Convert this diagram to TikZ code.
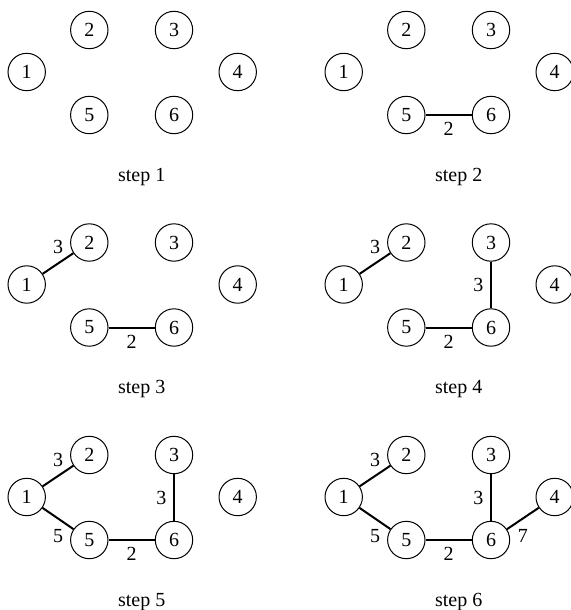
\documentclass[tikz,border=0pt]{standalone}
\usepackage{fontspec}
\setmainfont{Liberation Serif}
\usepackage{tikz}

\tikzset{
    vert/.style={circle, draw, line width=0.5pt, minimum size=18.7pt, inner sep=0pt},
    tree/.style={line width=1pt},
    steplabel/.style={inner sep=0pt}
}

\begin{document}
\begin{tikzpicture}[x=0.5pt, y=-0.5pt, font=\fontsize{10}{12}\selectfont]
    \useasboundingbox (0,0) rectangle (571,610);

    % six copies of the graph, one per step
    \foreach \s/\dx/\dy in {1/0/0, 2/317/0, 3/0/212.5, 4/317/212.5, 5/0/425, 6/317/425} {
        \begin{scope}[shift={(\dx,\dy)}]
            \node[vert] (s\s-1) at (26.7, 72) {1};
            \node[vert] (s\s-2) at (89.3, 30) {2};
            \node[vert] (s\s-3) at (174, 30) {3};
            \node[vert] (s\s-4) at (237.7, 72) {4};
            \node[vert] (s\s-5) at (89.3, 115) {5};
            \node[vert] (s\s-6) at (174, 115) {6};
            \node[steplabel] (lab\s) at (141.7, 177) {step \s};
        \end{scope}
    }

    % step 2
    \draw[tree] (s2-5) -- node[below] {2} (s2-6);

    % step 3
    \draw[tree] (s3-5) -- node[below] {2} (s3-6);
    \draw[tree] (s3-1) -- node[above=1pt] {3} (s3-2);

    % step 4
    \draw[tree] (s4-5) -- node[below] {2} (s4-6);
    \draw[tree] (s4-1) -- node[above=1pt] {3} (s4-2);
    \draw[tree] (s4-3) -- node[left] {3} (s4-6);

    % step 5
    \draw[tree] (s5-5) -- node[below] {2} (s5-6);
    \draw[tree] (s5-1) -- node[above=1pt] {3} (s5-2);
    \draw[tree] (s5-3) -- node[left] {3} (s5-6);
    \draw[tree] (s5-1) -- node[below=1.5pt] {5} (s5-5);

    % step 6
    \draw[tree] (s6-5) -- node[below] {2} (s6-6);
    \draw[tree] (s6-1) -- node[above=1pt] {3} (s6-2);
    \draw[tree] (s6-3) -- node[left] {3} (s6-6);
    \draw[tree] (s6-1) -- node[below=1.5pt] {5} (s6-5);
    \draw[tree] (s6-6) -- node[below=1.5pt] {7} (s6-4);
\end{tikzpicture}
\end{document}
